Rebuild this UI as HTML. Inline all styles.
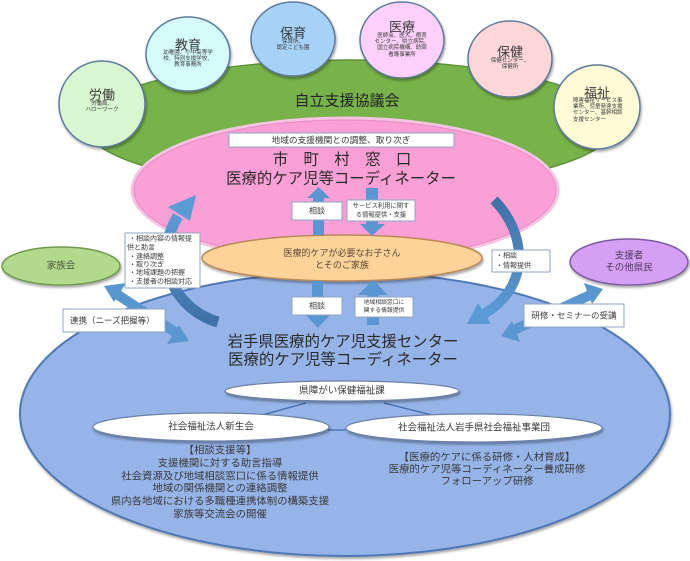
<!DOCTYPE html>
<html><head><meta charset="utf-8">
<style>
html,body{margin:0;padding:0;background:#fff;}
svg{display:block;}
text{font-family:"Liberation Sans","Noto Sans CJK JP",sans-serif;fill:#3a3a3a;}
</style></head>
<body>
<svg width="690" height="561" viewBox="0 0 690 561" xmlns="http://www.w3.org/2000/svg">
<defs>
  <linearGradient id="curL" x1="0" y1="1" x2="0" y2="0">
    <stop offset="0" stop-color="#3f70a6"/><stop offset="1" stop-color="#5b9bd5"/>
  </linearGradient>
  <linearGradient id="curR" x1="0" y1="0" x2="0" y2="1">
    <stop offset="0" stop-color="#3f70a6"/><stop offset="1" stop-color="#5b9bd5"/>
  </linearGradient>
  <filter id="sh" x="-10%" y="-10%" width="120%" height="130%">
    <feDropShadow dx="1" dy="2" stdDeviation="1.2" flood-color="#000" flood-opacity="0.35"/>
  </filter>
</defs>

<!-- green council ellipse -->
<ellipse cx="350" cy="125" rx="265" ry="65" fill="#77b24a" stroke="#5e9439" stroke-width="1.5"/>
<text x="347" y="101" font-size="15" text-anchor="middle" dominant-baseline="central" style="fill:#222">自立支援協議会</text>

<!-- big blue ellipse -->
<ellipse cx="345" cy="414" rx="325" ry="142" fill="#96b4e8" stroke="#4f78b6" stroke-width="2" filter="url(#sh)"/>

<!-- pink ellipse -->
<ellipse cx="345" cy="190" rx="213" ry="72" fill="#faa0d7" stroke="#f6c3e3" stroke-width="3"/>
<ellipse cx="345" cy="190" rx="211" ry="70" fill="none" stroke="#e88cc6" stroke-width="1"/>

<!-- orange ellipse -->
<ellipse cx="342" cy="258" rx="140" ry="23" fill="#fdd39a" stroke="#b9895a" stroke-width="1.5" filter="url(#sh)"/>

<!-- circles -->
<g stroke="#5b7a9c" stroke-width="1.5" filter="url(#sh)">
  <ellipse cx="102" cy="104" rx="43" ry="43" fill="#d8f6cf"/>
  <ellipse cx="188" cy="54" rx="42" ry="37" fill="#d6fbfb"/>
  <ellipse cx="293" cy="39" rx="42" ry="37" fill="#a6d2f8"/>
  <ellipse cx="402" cy="40" rx="42" ry="38" fill="#fdd1fb"/>
  <ellipse cx="510" cy="59" rx="42" ry="38" fill="#fed8d9"/>
  <ellipse cx="597" cy="107" rx="43" ry="42" fill="#fefbd6"/>
</g>
<g text-anchor="middle" dominant-baseline="central">
  <text x="102" y="95" font-size="13">労働</text>
  <text x="188" y="45" font-size="13">教育</text>
  <text x="293" y="33" font-size="13">保育</text>
  <text x="402" y="27" font-size="13">医療</text>
  <text x="510" y="52" font-size="13">保健</text>
  <text x="597" y="93" font-size="13">福祉</text>
</g>
<g text-anchor="middle" dominant-baseline="central" font-size="11">
  <text transform="translate(102 104) scale(0.5)">労働局、</text>
  <text transform="translate(102 110) scale(0.5)">ハローワーク</text>

  <text transform="translate(188 53) scale(0.5)">幼稚園、小中高等学</text>
  <text transform="translate(188 59) scale(0.5)">校、特別支援学校、</text>
  <text transform="translate(188 65) scale(0.5)">教育事務所</text>

  <text transform="translate(293 42) scale(0.5)">保育所、</text>
  <text transform="translate(293 48) scale(0.5)">認定こども園</text>

  <text transform="translate(402 36) scale(0.5)">医師会、医大、療育</text>
  <text transform="translate(402 42) scale(0.5)">センター、県立病院、</text>
  <text transform="translate(402 48) scale(0.5)">国立病院機構、訪問</text>
  <text transform="translate(402 55) scale(0.5)">看護事業所</text>

  <text transform="translate(510 61) scale(0.5)">保健センター、</text>
  <text transform="translate(510 67) scale(0.5)">保健所</text>
</g>
<g font-size="11" dominant-baseline="central">
  <text transform="translate(573 101) scale(0.5)">障害福祉サービス事</text>
  <text transform="translate(573 107) scale(0.5)">業所、児童発達支援</text>
  <text transform="translate(573 113) scale(0.5)">センター、基幹相談</text>
  <text transform="translate(573 120) scale(0.5)">支援センター</text>
</g>

<!-- top box in pink -->
<rect x="229" y="133" width="225" height="14" fill="#fff" stroke="#8ea4c4" stroke-width="1"/>
<text x="341" y="140" font-size="8.7" text-anchor="middle" dominant-baseline="central">地域の支援機関との調整、取り次ぎ</text>

<text x="342" y="160" font-size="15.4" text-anchor="middle" dominant-baseline="central" style="fill:#2a2a2a">市　町　村　窓　口</text>
<text x="341" y="179" font-size="15.4" text-anchor="middle" dominant-baseline="central" style="fill:#2a2a2a">医療的ケア児等コーディネーター</text>

<!-- straight arrows pink/orange -->
<g fill="#5a96d0">
  <polygon points="313,235 313,198 307,198 318.5,187 330,198 324,198 324,235"/>
  <polygon points="366,188 378,188 378,224 385,224 372,236 360,224 366,224"/>
  <polygon points="312,281 323,281 323,315 330,315 318,328 306,315 312,315"/>
  <polygon points="367,325 367,295 358,295 373,280 388,295 379,295 379,325"/>
</g>
<rect x="292" y="202" width="50" height="18" fill="#fff" stroke="#8ea4c4"/>
<text x="317" y="211" font-size="8" text-anchor="middle" dominant-baseline="central">相談</text>
<rect x="347" y="200" width="68" height="21" fill="#fff" stroke="#8ea4c4"/>
<g font-size="12.6" text-anchor="middle" dominant-baseline="central">
  <text transform="translate(381 206) scale(0.5)">サービス利用に関す</text>
  <text transform="translate(381 215) scale(0.5)">る情報提供・支援</text>
</g>

<text x="342" y="253" font-size="9" text-anchor="middle" dominant-baseline="central" style="fill:#5a4632">医療的ケアが必要なお子さん</text>
<text x="342" y="265" font-size="9" text-anchor="middle" dominant-baseline="central" style="fill:#5a4632">とそのご家族</text>

<!-- lower boxes -->
<rect x="292" y="297" width="50" height="18" fill="#fff" stroke="#8ea4c4"/>
<text x="317" y="306" font-size="8" text-anchor="middle" dominant-baseline="central">相談</text>
<rect x="355" y="297" width="58" height="20" fill="#fff" stroke="#8ea4c4"/>
<g font-size="11.6" text-anchor="middle" dominant-baseline="central">
  <text transform="translate(384 303) scale(0.5)">地域相談窓口に</text>
  <text transform="translate(384 311) scale(0.5)">関する情報提供</text>
</g>

<!-- curved arrows -->
<path d="M218 322 C176 310,150 262,178 216" fill="none" stroke="url(#curL)" stroke-width="11"/>
<polygon points="168,207 196,195 190,221" fill="#5b9bd5"/>
<path d="M494 200 C526 232,532 286,484 314" fill="none" stroke="url(#curR)" stroke-width="10"/>
<polygon points="478,303 467,324 491,324" fill="#5b9bd5"/>

<!-- side ellipses -->
<ellipse cx="61" cy="266" rx="59" ry="19" fill="#b3d98c" stroke="#6f9a4f" stroke-width="1.5" filter="url(#sh)"/>
<text x="61" y="266" font-size="9.5" text-anchor="middle" dominant-baseline="central" style="fill:#4a5a3a">家族会</text>
<ellipse cx="629" cy="262" rx="59" ry="23" fill="#d59ff5" stroke="#7d5aa0" stroke-width="1.5" filter="url(#sh)"/>
<text x="629" y="256" font-size="9.5" text-anchor="middle" dominant-baseline="central" style="fill:#4a3a5a">支援者</text>
<text x="629" y="268" font-size="9.5" text-anchor="middle" dominant-baseline="central" style="fill:#4a3a5a">その他県民</text>

<!-- double arrows -->
<g fill="#5a96d0">
  <line x1="115" y1="293" x2="178" y2="334" stroke="#5a96d0" stroke-width="10"/>
  <polygon points="104,286 126,283 114,302"/>
  <polygon points="189,341 167,344 179,325"/>
  <line x1="590" y1="295" x2="514" y2="330" stroke="#5a96d0" stroke-width="10"/>
  <polygon points="603,289 584,283 592,304"/>
  <polygon points="501,336 520,342 512,321"/>
</g>

<!-- left info box -->
<rect x="125" y="233" width="75" height="55" fill="#fff" stroke="#8ea4c4"/>
<g font-size="14" dominant-baseline="central">
  <text transform="translate(129 239) scale(0.5)">・相談内容の情報提</text>
  <text transform="translate(127 248) scale(0.5)">供と助言</text>
  <text transform="translate(129 257) scale(0.5)">・連絡調整</text>
  <text transform="translate(129 265) scale(0.5)">・取り次ぎ</text>
  <text transform="translate(129 273) scale(0.5)">・地域課題の把握</text>
  <text transform="translate(129 282) scale(0.5)">・支援者の相談対応</text>
</g>
<rect x="492" y="250" width="58" height="22" fill="#fff" stroke="#8ea4c4"/>
<g font-size="14" dominant-baseline="central">
  <text transform="translate(496 256) scale(0.5)">・相談</text>
  <text transform="translate(496 266) scale(0.5)">・情報提供</text>
</g>

<rect x="63" y="309" width="102" height="23" fill="#fff" stroke="#8ea4c4"/>
<text x="70" y="320.5" font-size="8.5" dominant-baseline="central">連携（ニーズ把握等）</text>
<rect x="524" y="304" width="100" height="23" fill="#fff" stroke="#8ea4c4"/>
<text x="574" y="315.5" font-size="8.5" text-anchor="middle" dominant-baseline="central">研修・セミナーの受講</text>

<!-- blue titles -->
<text x="343" y="342" font-size="15.4" text-anchor="middle" dominant-baseline="central" style="fill:#2a2a2a">岩手県医療的ケア児支援センター</text>
<text x="343" y="360" font-size="15.4" text-anchor="middle" dominant-baseline="central" style="fill:#2a2a2a">医療的ケア児等コーディネーター</text>

<!-- connectors -->
<g stroke="#3f6aa8" stroke-width="1.2">
  <line x1="306" y1="403" x2="262" y2="415"/>
  <line x1="384" y1="403" x2="436" y2="416"/>
  <line x1="328" y1="430" x2="346" y2="430"/>
</g>

<!-- white ellipses -->
<g fill="#fff" stroke="#6b80a6" stroke-width="1.2" filter="url(#sh)">
  <ellipse cx="342" cy="391" rx="117" ry="10"/>
  <ellipse cx="211" cy="427" rx="118" ry="14"/>
  <ellipse cx="474" cy="428" rx="128" ry="14"/>
</g>
<text x="342" y="391" font-size="9.5" text-anchor="middle" dominant-baseline="central">県障がい保健福祉課</text>
<text x="211" y="427" font-size="9.5" text-anchor="middle" dominant-baseline="central">社会福祉法人新生会</text>
<text x="474" y="428" font-size="9.5" text-anchor="middle" dominant-baseline="central">社会福祉法人岩手県社会福祉事業団</text>

<!-- lower text blocks -->
<g font-size="10.4" text-anchor="middle" dominant-baseline="central" style="fill:#2e2e2e">
  <text x="220" y="451">【相談支援等】</text>
  <text x="220" y="464">支援機関に対する助言指導</text>
  <text x="220" y="477">社会資源及び地域相談窓口に係る情報提供</text>
  <text x="220" y="489">地域の関係機関との連絡調整</text>
  <text x="220" y="502">県内各地域における多職種連携体制の構築支援</text>
  <text x="220" y="515">家族等交流会の開催</text>

  <text x="487" y="458">【医療的ケアに係る研修・人材育成】</text>
  <text x="487" y="470">医療的ケア児等コーディネーター養成研修</text>
  <text x="487" y="482">フォローアップ研修</text>
</g>
</svg>
</body></html>
